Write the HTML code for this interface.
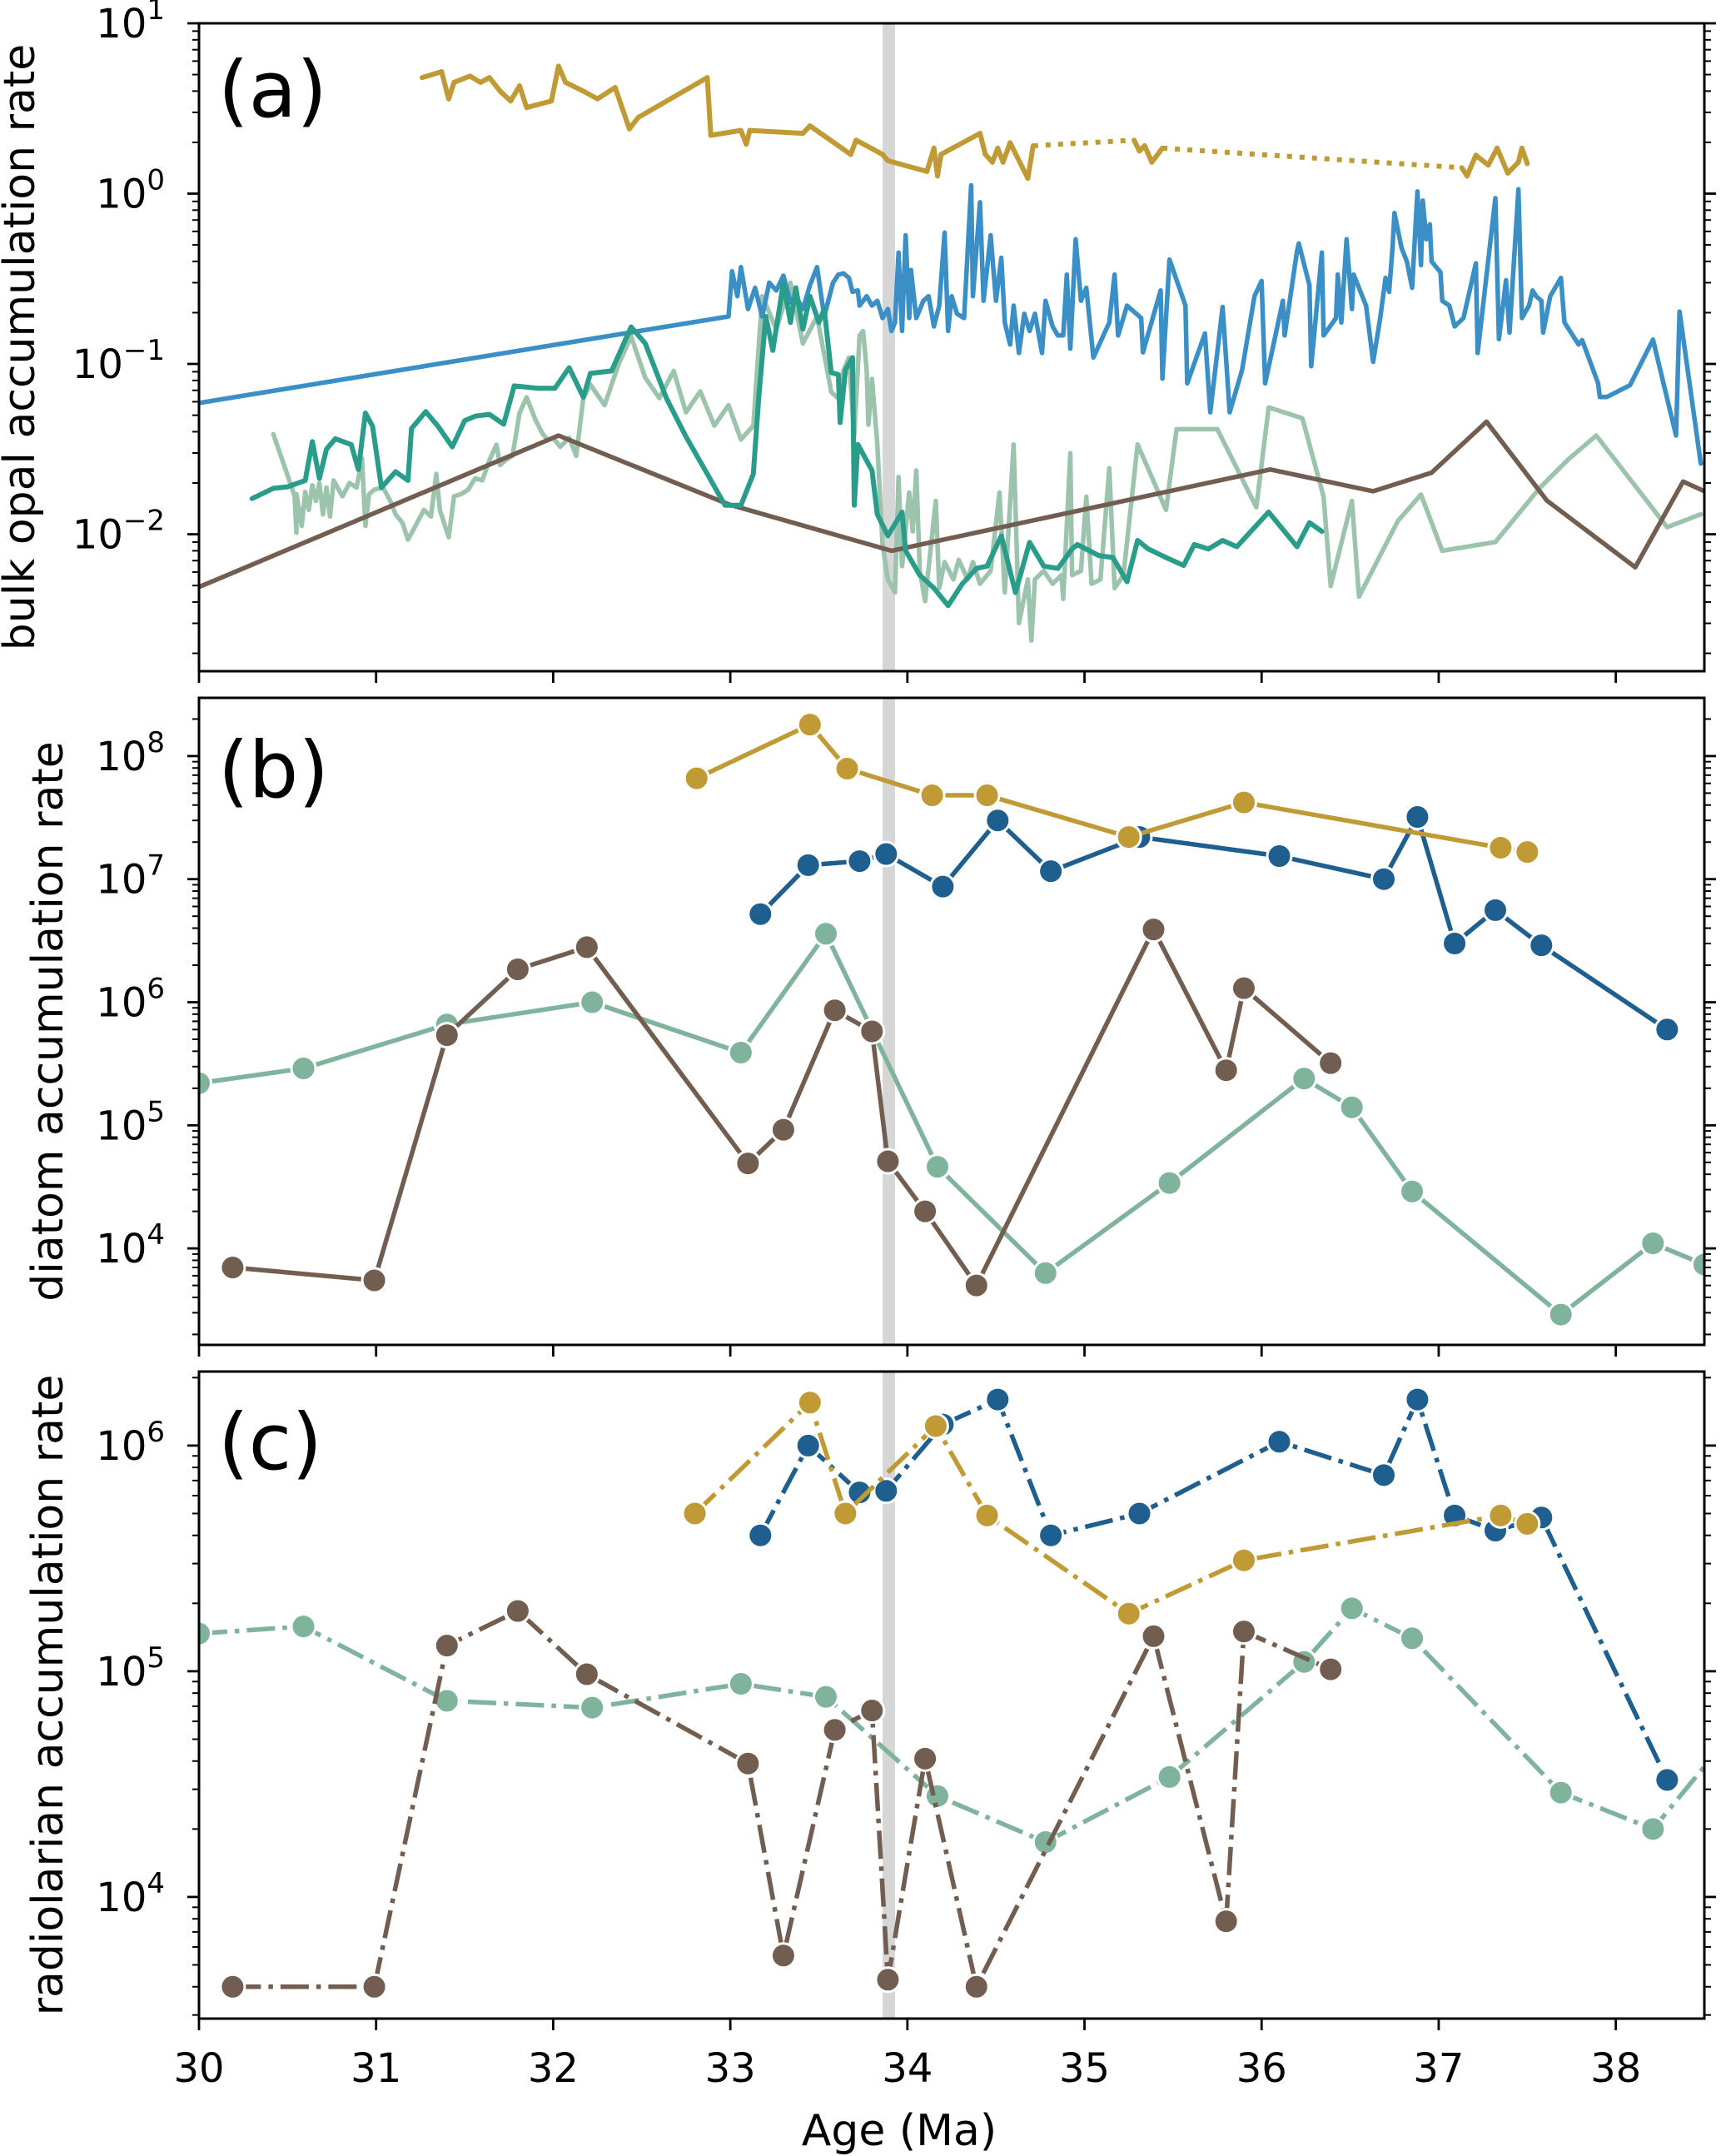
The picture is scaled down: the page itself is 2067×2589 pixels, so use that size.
<!DOCTYPE html>
<html><head><meta charset="utf-8"><style>
html,body{margin:0;padding:0;background:#fff;}
svg{display:block;font-family:"DejaVu Sans","Liberation Sans",sans-serif;}
</style></head><body>
<svg id="chart" width="2067" height="2589" viewBox="0 0 2067 2589" xmlns="http://www.w3.org/2000/svg">
<rect width="2067" height="2589" fill="#fff"/>
</svg>
<script>
// ---------- data: panel (a) bulk opal ----------
const goldAAge=[31.26,31.37,31.41,31.44,31.53,31.59,31.64,31.70,31.76,31.81,31.85,31.99,32.03,32.07,32.17,32.25,32.35,32.43,32.48,32.87,32.89,33.06,33.09,33.11,33.41,33.45,33.68,33.71,33.86,33.89,34.11,34.15,34.17,34.19,34.41,34.44,34.48,34.51,34.54,34.58,34.68,34.71,35.28,35.31,35.34,35.38,35.44,37.13,37.16,37.21,37.28,37.33,37.39,37.45,37.47,37.50];
const goldAVal=[4.8,5.2,3.6,4.5,4.9,4.5,4.8,4.0,3.5,4.3,3.2,3.5,5.6,4.5,4.0,3.6,4.2,2.4,2.8,4.8,2.2,2.35,1.95,2.35,2.26,2.5,1.7,2.06,1.7,1.56,1.35,1.85,1.27,1.7,2.26,1.7,1.53,1.85,1.53,1.99,1.23,1.91,2.06,1.78,1.91,1.53,1.85,1.42,1.27,1.68,1.47,1.85,1.32,1.53,1.85,1.5];
const goldADottedAfter=[41,46]; // segment start indices drawn dotted
const blueAAge=[30,32.99,33.01,33.04,33.06,33.10,33.14,33.18,33.22,33.26,33.30,33.34,33.37,33.41,33.45,33.49,33.53,33.58,33.61,33.64,33.67,33.69,33.72,33.73,33.77,33.80,33.83,33.86,33.89,33.91,33.93,33.95,33.97,33.99,34.01,34.02,34.05,34.09,34.12,34.15,34.18,34.21,34.23,34.25,34.28,34.32,34.36,34.37,34.41,34.43,34.47,34.50,34.53,34.55,34.58,34.60,34.63,34.66,34.69,34.72,34.76,34.78,34.82,34.85,34.88,34.90,34.92,34.95,34.98,35.01,35.05,35.14,35.17,35.19,35.24,35.32,35.33,35.43,35.44,35.48,35.57,35.58,35.68,35.71,35.78,35.82,35.89,35.96,36.00,36.02,36.12,36.13,36.20,36.21,36.27,36.28,36.34,36.35,36.42,36.43,36.45,36.48,36.51,36.52,36.59,36.63,36.67,36.70,36.72,36.74,36.75,36.79,36.82,36.85,36.88,36.90,36.91,36.93,36.95,36.96,37.01,37.02,37.06,37.09,37.14,37.21,37.22,37.32,37.34,37.38,37.40,37.45,37.47,37.51,37.53,37.55,37.58,37.59,37.63,37.69,37.71,37.79,37.81,37.90,37.91,37.95,38.08,38.21,38.34,38.36,38.48];
const blueAVal=[0.059,0.19,0.35,0.25,0.37,0.21,0.28,0.19,0.30,0.27,0.33,0.23,0.25,0.21,0.29,0.37,0.19,0.30,0.335,0.34,0.32,0.265,0.27,0.22,0.25,0.22,0.235,0.186,0.21,0.156,0.175,0.45,0.156,0.57,0.186,0.356,0.186,0.235,0.25,0.166,0.22,0.59,0.156,0.25,0.197,0.186,1.12,0.25,0.89,0.235,0.57,0.235,0.42,0.175,0.13,0.22,0.116,0.197,0.156,0.197,0.116,0.235,0.166,0.147,0.147,0.335,0.123,0.54,0.235,0.28,0.109,0.175,0.335,0.147,0.22,0.186,0.117,0.27,0.082,0.41,0.22,0.077,0.151,0.052,0.216,0.052,0.092,0.25,0.307,0.077,0.235,0.147,0.46,0.51,0.29,0.097,0.45,0.147,0.186,0.335,0.175,0.54,0.21,0.335,0.22,0.103,0.186,0.32,0.265,0.49,0.77,0.48,0.40,0.28,1.03,0.38,0.91,0.54,0.66,0.40,0.345,0.235,0.22,0.166,0.186,0.39,0.116,0.94,0.14,0.31,0.153,1.06,0.186,0.22,0.27,0.25,0.235,0.153,0.25,0.32,0.175,0.13,0.138,0.077,0.064,0.064,0.075,0.139,0.038,0.203,0.026];
const tealAAge=[30.30,30.42,30.50,30.60,30.64,30.68,30.72,30.77,30.86,30.90,30.94,30.98,31.03,31.11,31.18,31.20,31.28,31.35,31.43,31.50,31.56,31.64,31.72,31.78,31.91,32.01,32.09,32.17,32.21,32.33,32.44,32.52,32.64,32.75,32.87,32.97,33.06,33.13,33.16,33.20,33.24,33.30,33.34,33.37,33.41,33.45,33.50,33.53,33.57,33.61,33.62,33.65,33.69,33.70,33.72,33.80,33.83,33.89,33.97,33.99,34.07,34.15,34.23,34.31,34.39,34.45,34.53,34.61,34.69,34.77,34.85,34.93,34.96,35.08,35.16,35.24,35.30,35.36,35.46,35.56,35.62,35.70,35.78,35.86,36.04,36.20,36.27,36.34];
const tealAVal=[0.0162,0.0186,0.019,0.0207,0.035,0.0213,0.0316,0.0364,0.0336,0.024,0.0515,0.043,0.0188,0.0233,0.0207,0.0417,0.0525,0.043,0.0326,0.0465,0.0494,0.0506,0.0443,0.0743,0.072,0.072,0.095,0.0638,0.088,0.091,0.165,0.132,0.0628,0.0374,0.0226,0.0148,0.0148,0.0226,0.0628,0.19,0.12,0.30,0.175,0.28,0.16,0.25,0.175,0.21,0.089,0.0865,0.0453,0.092,0.109,0.0148,0.0337,0.0237,0.0131,0.0098,0.0135,0.0080,0.00575,0.00483,0.00381,0.00512,0.0063,0.0065,0.0098,0.00455,0.00896,0.0065,0.0063,0.0082,0.0087,0.0075,0.0073,0.00527,0.0092,0.0082,0.0073,0.00656,0.0087,0.0082,0.0092,0.00845,0.0135,0.00845,0.0117,0.0104];
const paleAAge=[30.42,30.48,30.54,30.55,30.55,30.58,30.60,30.62,30.64,30.66,30.68,30.70,30.72,30.74,30.76,30.81,30.85,30.89,30.92,30.94,30.96,30.99,31.04,31.08,31.11,31.15,31.18,31.23,31.27,31.31,31.34,31.36,31.41,31.44,31.48,31.52,31.56,31.60,31.64,31.68,31.70,31.73,31.77,31.81,31.85,31.90,31.94,31.97,32.00,32.04,32.09,32.13,32.17,32.21,32.29,32.37,32.44,32.52,32.60,32.68,32.75,32.83,32.91,32.99,33.06,33.13,33.18,33.26,33.34,33.41,33.49,33.57,33.61,33.64,33.67,33.70,33.73,33.75,33.77,33.78,33.80,33.83,33.86,33.89,33.93,33.95,33.97,34.01,34.03,34.05,34.07,34.10,34.16,34.18,34.21,34.26,34.29,34.34,34.37,34.41,34.47,34.52,34.55,34.60,34.63,34.68,34.70,34.72,34.77,34.82,34.87,34.88,34.92,34.93,34.98,35.01,35.04,35.09,35.14,35.17,35.22,35.30,35.46,35.52,35.75,35.97,36.04,36.23,36.35,36.39,36.51,36.55,36.77,36.90,37.02,37.32,37.57,37.73,37.89,38.29,38.48];
const paleAVal=[0.0387,0.0255,0.0167,0.0102,0.0172,0.0112,0.0177,0.0139,0.0194,0.0157,0.020,0.0131,0.0188,0.0127,0.0207,0.0167,0.020,0.0188,0.028,0.0112,0.0172,0.0183,0.0188,0.0157,0.0131,0.0116,0.0093,0.0116,0.0139,0.0127,0.0226,0.0139,0.0096,0.0167,0.0172,0.0183,0.0213,0.0207,0.0272,0.0336,0.0255,0.0272,0.0289,0.0515,0.0638,0.047,0.039,0.0357,0.0368,0.0326,0.0368,0.0289,0.063,0.0757,0.0573,0.1,0.145,0.083,0.063,0.091,0.052,0.069,0.0434,0.0573,0.036,0.0434,0.25,0.16,0.30,0.132,0.19,0.0684,0.0625,0.092,0.109,0.038,0.147,0.156,0.092,0.044,0.0817,0.0337,0.0087,0.00543,0.00455,0.0217,0.0065,0.0176,0.0104,0.0237,0.0061,0.00405,0.0157,0.00483,0.00687,0.00543,0.00708,0.00543,0.00687,0.00512,0.0061,0.0176,0.00455,0.0337,0.00301,0.00543,0.00238,0.00543,0.0061,0.00512,0.00575,0.00417,0.030,0.00575,0.0061,0.0166,0.00512,0.00543,0.0244,0.00483,0.00575,0.0337,0.0139,0.0414,0.0414,0.0144,0.0556,0.048,0.0166,0.00497,0.0157,0.0043,0.012,0.0171,0.008,0.009,0.0187,0.0274,0.038,0.011,0.0131];
const brownAAge=[30,32.03,32.99,33.91,36.05,36.63,36.96,37.27,37.61,38.11,38.38,38.5];
const brownAVal=[0.0049,0.038,0.015,0.008,0.024,0.0179,0.023,0.0458,0.0158,0.0064,0.0204,0.0179];
// ---------- data: panel (b) diatoms ----------
const goldBAge=[32.81,33.45,33.66,34.14,34.45,35.25,35.90,37.35,37.50];
const goldBVal=[6.6e7,1.8e8,7.9e7,4.8e7,4.8e7,2.2e7,4.2e7,1.8e7,1.66e7];
const blueBAge=[33.17,33.44,33.73,33.88,34.20,34.51,34.81,35.31,36.10,36.69,36.88,37.09,37.32,37.58,38.29];
const blueBVal=[5.2e6,1.3e7,1.4e7,1.6e7,8.7e6,3.0e7,1.16e7,2.2e7,1.54e7,1.0e7,3.2e7,3.0e6,5.6e6,2.9e6,6.0e5];
const greenBAge=[30,30.59,31.40,32.22,33.06,33.54,34.17,34.78,35.48,36.24,36.51,36.85,37.69,38.21,38.5];
const greenBVal=[2.2e5,2.9e5,6.6e5,1.0e6,3.9e5,3.6e6,4.6e4,6.3e3,3.4e4,2.4e5,1.4e5,2.9e4,2.9e3,1.1e4,7.4e3];
const brownBAge=[30.19,30.99,31.40,31.80,32.19,33.10,33.30,33.59,33.80,33.89,34.10,34.39,35.39,35.80,35.90,36.39];
const brownBVal=[7.0e3,5.5e3,5.4e5,1.85e6,2.8e6,4.9e4,9.2e4,8.6e5,5.8e5,5.1e4,2.0e4,5.0e3,3.9e6,2.8e5,1.3e6,3.2e5];
// ---------- data: panel (c) radiolarians ----------
const goldCAge=[32.80,33.45,33.65,34.16,34.45,35.25,35.90,37.35,37.50];
const goldCVal=[5.0e5,1.55e6,5.0e5,1.22e6,4.9e5,1.8e5,3.1e5,4.9e5,4.5e5];
const blueCAge=[33.17,33.44,33.73,33.88,34.20,34.51,34.81,35.31,36.10,36.69,36.88,37.09,37.32,37.58,38.29];
const blueCVal=[4.0e5,1.0e6,6.2e5,6.3e5,1.24e6,1.6e6,4.0e5,5.0e5,1.04e6,7.4e5,1.6e6,4.9e5,4.2e5,4.8e5,3.3e4];
const greenCAge=[30,30.59,31.40,32.22,33.06,33.54,34.17,34.78,35.48,36.24,36.51,36.85,37.69,38.21,38.59];
const greenCVal=[1.47e5,1.58e5,7.4e4,6.9e4,8.8e4,7.7e4,2.8e4,1.75e4,3.4e4,1.1e5,1.9e5,1.4e5,2.9e4,2.0e4,4.6e4];
const brownCAge=[30.19,30.99,31.40,31.80,32.19,33.10,33.30,33.59,33.80,33.89,34.10,34.39,35.39,35.80,35.90,36.39];
const brownCVal=[4.0e3,4.0e3,1.3e5,1.85e5,9.7e4,3.9e4,5.5e3,5.5e4,6.7e4,4.3e3,4.1e4,4.0e3,1.43e5,7.8e3,1.5e5,1.02e5];
const xTicks=[30,31,32,33,34,35,36,37,38];
const eotAge=[33.86,33.93];

// ---------- rendering ----------
const NS='http://www.w3.org/2000/svg';
const svg=document.getElementById('chart');
const X0=239,X1=2047,XMIN=30,XMAX=38.5;
function xs(a){return X0+(a-XMIN)/(XMAX-XMIN)*(X1-X0);}
function mk(tag,attrs,parent){const e=document.createElementNS(NS,tag);for(const k in attrs)e.setAttribute(k,attrs[k]);(parent||svg).appendChild(e);return e;}
const C={gold:'#bf9a35',blueA:'#3a8fc6',blueD:'#1f5f8f',teal:'#2a9d8a',pale:'#9cc4ad',brown:'#725e51',green:'#7fb39b'};

const panels=[
 {id:'a',top:28,bot:806,lmin:-2.804,lmax:1,label:'bulk opal accumulation rate',lx:24,letterY:140},
 {id:'b',top:838,bot:1615,lmin:3.216,lmax:8.473,label:'diatom accumulation rate',lx:58,letterY:957},
 {id:'c',top:1647,bot:2424,lmin:3.461,lmax:6.328,label:'radiolarian accumulation rate',lx:58,letterY:1764}
];
function ysF(p){return v=>p.bot-(Math.log10(v)-p.lmin)/(p.lmax-p.lmin)*(p.bot-p.top);}

panels.forEach(p=>{
 const ys=ysF(p);
 const g=mk('g',{});
 
 
 const cp=mk('clipPath',{id:'clip-'+p.id},g);
 mk('rect',{x:X0,y:p.top,width:X1-X0,height:p.bot-p.top},cp);
 const band=mk('rect',{x:xs(eotAge[0]),y:p.top,width:xs(eotAge[1])-xs(eotAge[0]),height:p.bot-p.top,fill:'#d6d6d6'},g);
 
 
 p.g=g;p.ys=ys;
 p.plot=mk('g',{'clip-path':'url(#clip-'+p.id+')'},g);
});

function line(p,ages,vals,color,w,dash,name,opacity){
 const ys=p.ys;let d='';
 ages.forEach((a,i)=>{d+=(i?'L':'M')+xs(a).toFixed(1)+','+ys(vals[i]).toFixed(1);});
 const e=mk('path',{d:d,fill:'none',stroke:color,'stroke-width':w,'stroke-linejoin':'round','stroke-linecap':dash?'butt':'round'},p.plot);
 if(dash)e.setAttribute('stroke-dasharray',dash);
 if(opacity)e.setAttribute('opacity',opacity);
 
 
 return e;
}
function dots(p,ages,vals,color,name){
 const ys=p.ys;
 ages.forEach((a,i)=>{
  const c=mk('circle',{cx:xs(a),cy:ys(vals[i]),r:14.5,fill:color,stroke:'#fff','stroke-width':3},p.plot);
  
  
 });
}

// panel a
const pa=panels[0];
line(pa,paleAAge,paleAVal,C.pale,5.5,null,'pale-green-opal-line');
line(pa,brownAAge,brownAVal,C.brown,5.5,null,'brown-opal-line');
line(pa,blueAAge,blueAVal,C.blueA,5.5,null,'blue-opal-line');
line(pa,tealAAge,tealAVal,C.teal,6,null,'teal-opal-line');
(function(){
 for(let i=0;i<goldAAge.length-1;i++){
  const dotted=goldADottedAfter.indexOf(i)>=0;
  const e=mk('line',{x1:xs(goldAAge[i]),y1:pa.ys(goldAVal[i]),x2:xs(goldAAge[i+1]),y2:pa.ys(goldAVal[i+1]),stroke:C.gold,'stroke-width':6,'stroke-linecap':dotted?'butt':'round'},pa.plot);
  if(dotted)e.setAttribute('stroke-dasharray','6,9');
  
  
 }
})();
// panel b
const pb=panels[1];
[[greenBAge,greenBVal,C.green,'green-diatom'],[brownBAge,brownBVal,C.brown,'brown-diatom'],[blueBAge,blueBVal,C.blueD,'blue-diatom'],[goldBAge,goldBVal,C.gold,'gold-diatom']].forEach(s=>{
 line(pb,s[0],s[1],s[2],5.5,null,s[3]+'-line');dots(pb,s[0],s[1],s[2],s[3]);
});
// panel c
const pc=panels[2];
[[greenCAge,greenCVal,C.green,'green-radiolarian'],[brownCAge,brownCVal,C.brown,'brown-radiolarian'],[blueCAge,blueCVal,C.blueD,'blue-radiolarian'],[goldCAge,goldCVal,C.gold,'gold-radiolarian']].forEach(s=>{
 line(pc,s[0],s[1],s[2],5.5,'34,9,5.5,9',s[3]+'-line');dots(pc,s[0],s[1],s[2],s[3]);
});

// axes
panels.forEach((p,pi)=>{
 const g=p.g, ys=p.ys;
 const fr=mk('rect',{x:X0,y:p.top,width:X1-X0,height:p.bot-p.top,fill:'none',stroke:'#000','stroke-width':3},g);
 
 
 xTicks.forEach(t=>{
  const x=xs(t);
  const tk=mk('line',{x1:x,y1:p.bot,x2:x,y2:p.bot+14,stroke:'#000','stroke-width':2.8},g);
  
  
  if(pi===2){
   const tl=mk('text',{x:x,y:p.bot+76,'font-size':48,'text-anchor':'middle',fill:'#000'},g);
   tl.textContent=String(t);
   
   
  }
 });
 for(let e=Math.floor(p.lmin);e<=Math.ceil(p.lmax);e++){
  for(let k=1;k<10;k++){
   const lv=e+Math.log10(k);
   if(lv<p.lmin-1e-6||lv>p.lmax+1e-6)continue;
   const y=ys(Math.pow(10,lv)), L=k===1?14:8, w=k===1?2.8:2;
   const t1=mk('line',{x1:X0,y1:y,x2:X0-L,y2:y,stroke:'#000','stroke-width':w},g);
   
   
   const t2=mk('line',{x1:X1,y1:y,x2:X1+L,y2:y,stroke:'#000','stroke-width':w},g);
   
   
   if(k===1){
    const tl=mk('text',{x:198,y:y+17,'font-size':48,'text-anchor':'end',fill:'#000'},g);
    
    
    const a=mk('tspan',{},tl);a.textContent='10';
    const b=mk('tspan',{'font-size':34,dy:-22},tl);b.textContent=(e<0?'\u2212'+(-e):String(e));
   }
  }
 }
 const yl=mk('text',{x:p.lx,y:(p.top+p.bot)/2,'font-size':52,'text-anchor':'middle','dominant-baseline':'central',transform:'rotate(-90 '+p.lx+' '+((p.top+p.bot)/2)+')',fill:'#000'},g);
 yl.textContent=p.label;
 
 
 const lt=mk('text',{x:262,y:p.letterY,'font-size':94,fill:'#000'},g);
 lt.textContent='('+p.id+')';
 
 
});
const xl=mk('text',{x:1080,y:2576,'font-size':52,'text-anchor':'middle',fill:'#000'});
xl.textContent='Age (Ma)';


</script>
</body></html>
